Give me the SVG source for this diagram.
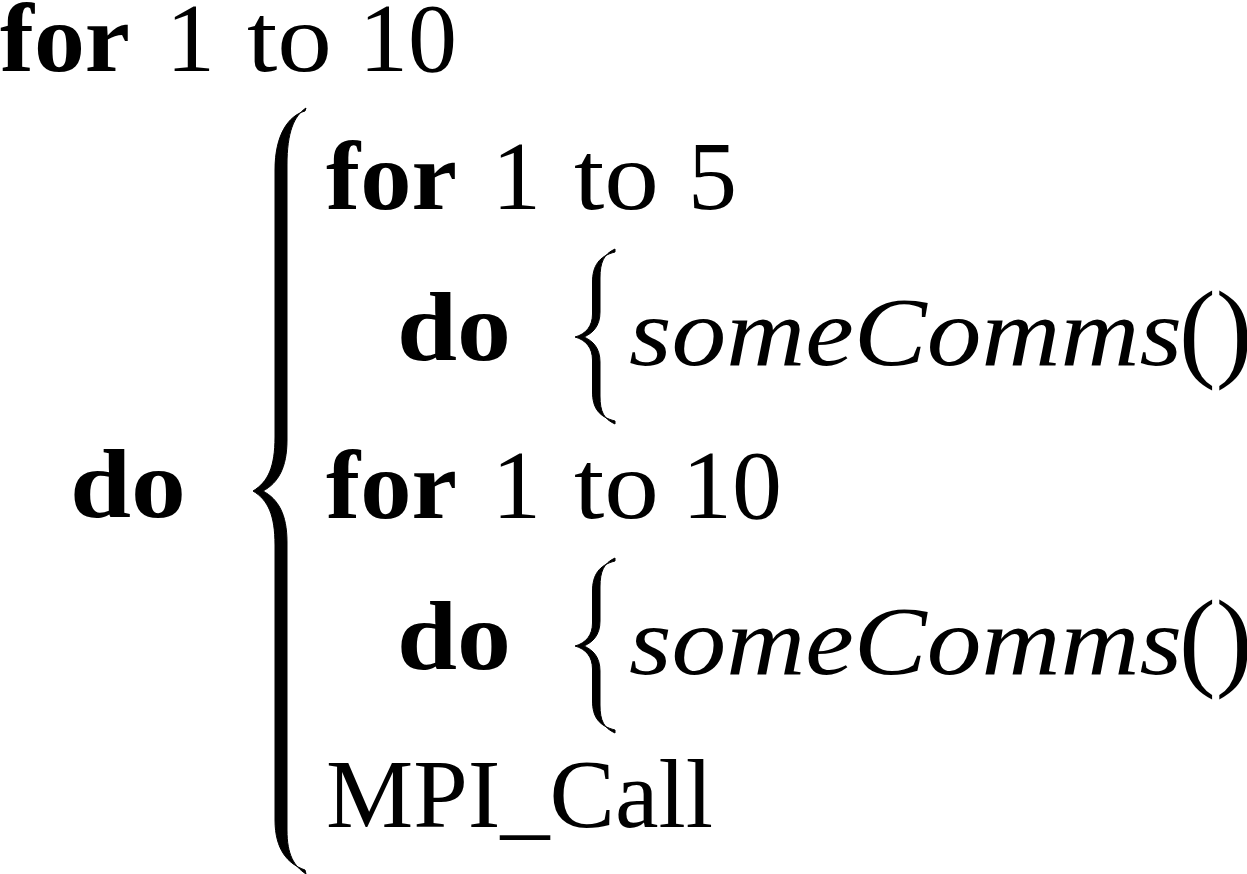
<svg xmlns="http://www.w3.org/2000/svg" width="1247" height="874" viewBox="0 0 1247 874">
<style>
text { font-family: "Liberation Serif", "Times New Roman", serif; font-size: 98px; fill: #000; }
.b { font-weight: bold; }
.i { font-style: italic; }
.p { font-size: 110px; }
.brace { fill: #000; stroke: #000; stroke-width: 1; stroke-linejoin: round; }
</style>
<defs>
<path id="smallBrace" class="brace" d="M 615,249 C 604,254 600,262 600,278 L 600,312 C 600,326 593,333 584,337 C 593,341 600,348 600,362 L 600,396 C 600,412 604,419 615,424 L 615,421 C 599,417 592.5,408 592.5,392 L 592.5,360 C 592.5,348 586,340 575,337 C 586,334 592.5,326 592.5,314 L 592.5,282 C 592.5,266 599,256 615,252 Z"/>
</defs>
<rect x="0" y="0" width="1247" height="874" fill="#fff"/>

<g id="line1">
<text class="b" x="0" y="71" textLength="130" lengthAdjust="spacingAndGlyphs">for</text>
<text x="166" y="71">1</text>
<text x="247" y="71" textLength="85" lengthAdjust="spacingAndGlyphs">to</text>
<text x="359" y="71" textLength="98" lengthAdjust="spacingAndGlyphs">10</text>
</g>

<g id="outer-do">
<text class="b" x="70" y="517" textLength="116" lengthAdjust="spacingAndGlyphs">do</text>
<path class="brace" d="M 306,108 C 294,116 287,132 287,165 L 287,440 C 287,468 278,483 263,491 C 278,499 287,514 287,542 L 287,830 C 287,855 294,866 306,874 L 305,870 C 288,864 275,850 275,820 L 275,545 C 275,515 268,500 253,491 C 268,482 275,467 275,437 L 275,170 C 275,135 288,116 305,111 Z"/>
</g>

<g id="line2">
<text class="b" x="326" y="209" textLength="131" lengthAdjust="spacingAndGlyphs">for</text>
<text x="492" y="209">1</text>
<text x="574" y="209" textLength="85" lengthAdjust="spacingAndGlyphs">to</text>
<text x="688" y="209">5</text>
</g>

<g id="line3">
<text class="b" x="397" y="360" textLength="114" lengthAdjust="spacingAndGlyphs">do</text>
<use href="#smallBrace"/>
<text class="i" x="629" y="365" textLength="553" lengthAdjust="spacingAndGlyphs">someComms</text>
<text class="p" x="1179" y="367">()</text>
</g>

<g id="line4">
<text class="b" x="326" y="518" textLength="131" lengthAdjust="spacingAndGlyphs">for</text>
<text x="492" y="518">1</text>
<text x="574" y="518" textLength="85" lengthAdjust="spacingAndGlyphs">to</text>
<text x="682" y="518" textLength="100" lengthAdjust="spacingAndGlyphs">10</text>
</g>

<g id="line5">
<text class="b" x="397" y="669" textLength="114" lengthAdjust="spacingAndGlyphs">do</text>
<use href="#smallBrace" transform="translate(0,309)"/>
<text class="i" x="629" y="674" textLength="553" lengthAdjust="spacingAndGlyphs">someComms</text>
<text class="p" x="1179" y="676">()</text>
</g>

<g id="line6">
<text x="326" y="827" textLength="387" lengthAdjust="spacingAndGlyphs">MPI_Call</text>
</g>
</svg>
